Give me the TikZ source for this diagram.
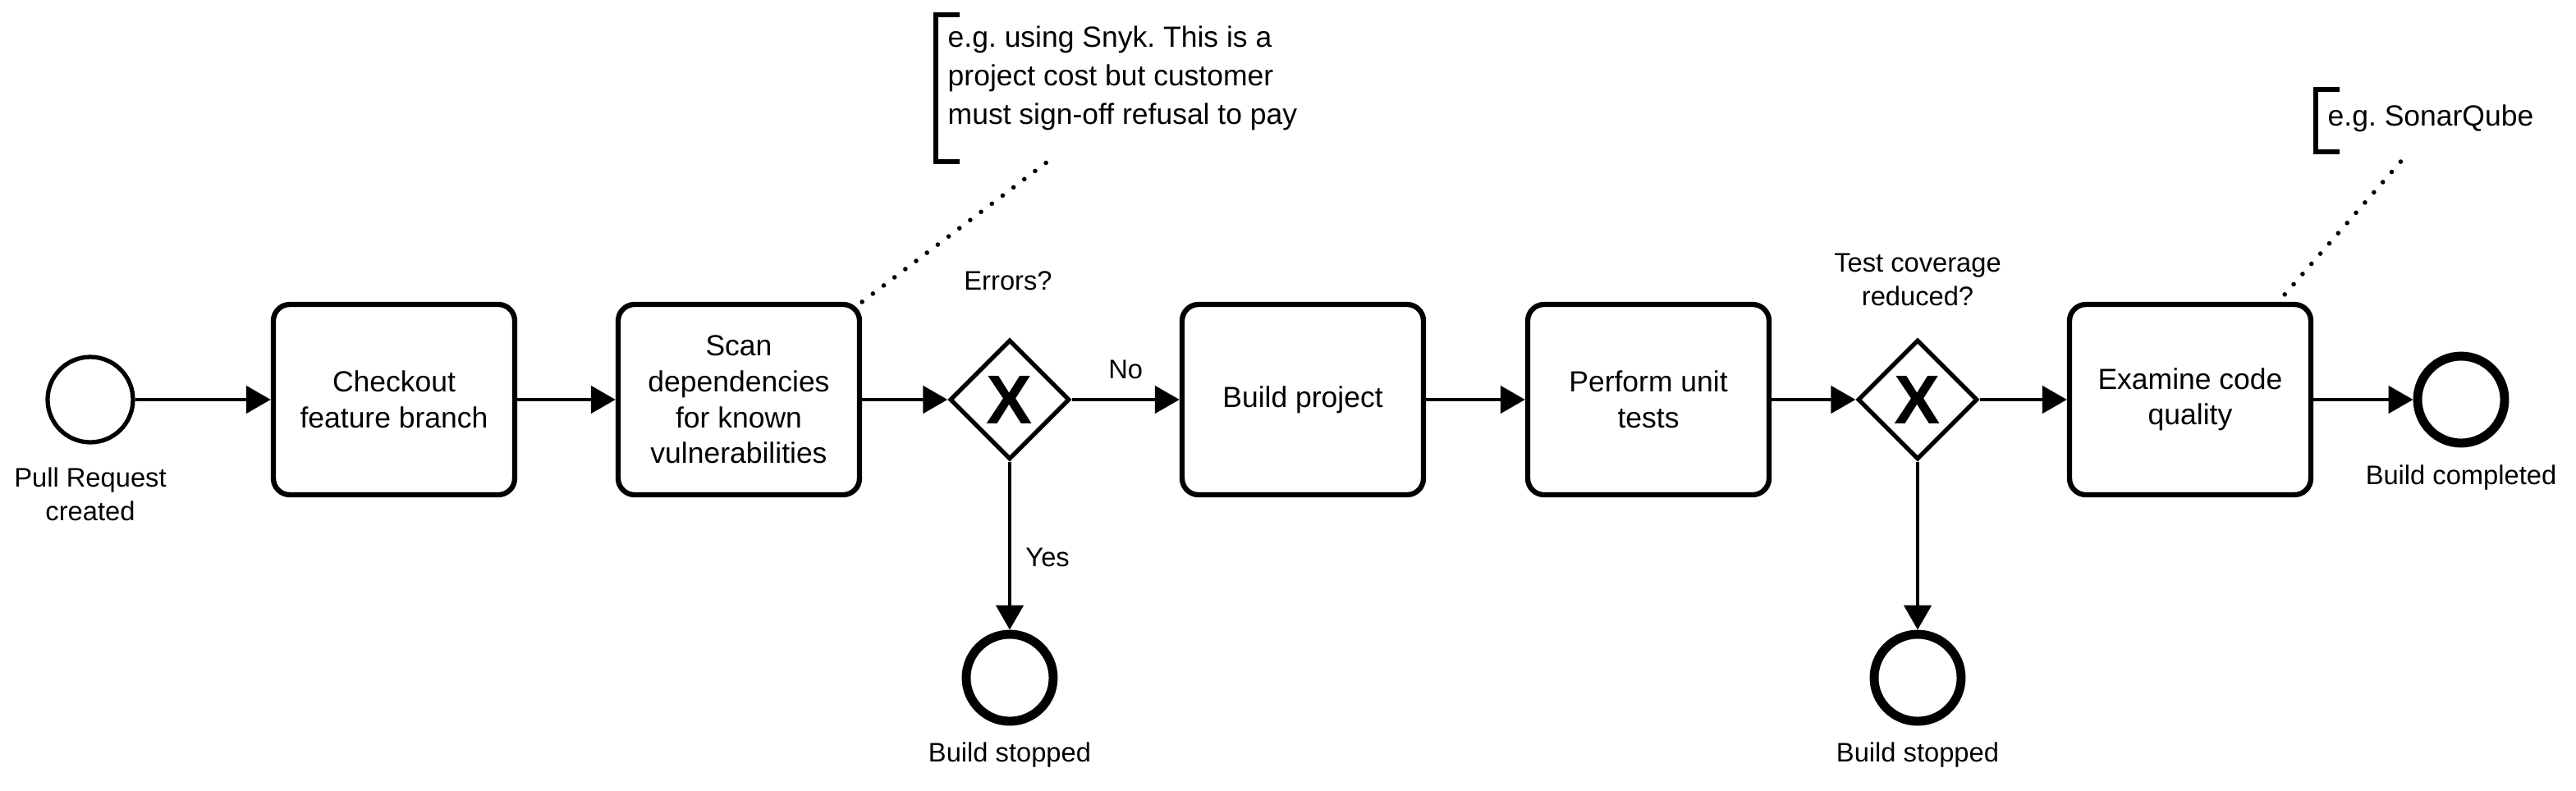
\documentclass[tikz,border=0pt]{standalone}
\usepackage{fontspec}
\setmainfont{Liberation Sans}
\usetikzlibrary{shapes.geometric,arrows.meta}
\frenchspacing

\begin{document}
\begin{tikzpicture}[
  >={Triangle[length=3mm,width=3.3mm]},
  seqflow/.style={->,line width=1.4pt},
  task/.style={draw,line width=1.8pt,rounded corners=2mm,minimum width=2.94cm,minimum height=2.32cm,align=center,font=\fontsize{10.1}{12.4}\selectfont},
  gateway/.style={draw,diamond,line width=1.5pt,minimum size=1.46cm,inner sep=0pt,font=\fontsize{24}{24}\selectfont\bfseries},
  startevent/.style={draw,circle,line width=1.5pt,minimum size=1.04cm,inner sep=0pt},
  endevent/.style={draw,circle,line width=3.1pt,minimum size=1.06cm,inner sep=0pt},
  evlabel/.style={align=center,font=\fontsize{9.3}{11.6}\selectfont},
  notetext/.style={anchor=west,align=left,inner sep=0pt,font=\fontsize{10.1}{13.4}\selectfont},
  bracket/.style={line width=1.7pt},
  assoc/.style={line width=1.6pt,line cap=round,dash pattern=on 0pt off 4.7pt}
]

% Frame
\useasboundingbox (0,-4.76) rectangle (31.38,4.87);

% Events, tasks and gateways
\node[startevent] (start) at (1.10,0) {};
\node[task] (checkout) at (4.80,0) {Checkout\\feature branch};
\node[task] (scan) at (9.00,0) {Scan\\dependencies\\for known\\vulnerabilities};
\node[gateway] (errors) at (12.30,0) {X};
\node[task] (build) at (15.87,0) {Build project};
\node[task] (tests) at (20.08,0) {Perform unit\\tests};
\node[gateway] (coverage) at (23.36,0) {X};
\node[task] (quality) at (26.68,0) {Examine code\\quality};
\node[endevent] (done) at (29.98,0) {};
\node[endevent] (stop1) at (12.30,-3.39) {};
\node[endevent] (stop2) at (23.36,-3.39) {};

% Labels
\node[evlabel] (start lbl) at (1.10,-1.15) {Pull Request\\created};
\node[evlabel] (errors lbl) at (12.28,1.45) {Errors?};
\node[evlabel] (coverage lbl) at (23.36,1.46) {Test coverage\\reduced?};
\node[evlabel] (done lbl) at (29.98,-0.95) {Build completed};
\node[evlabel] (stop1 lbl) at (12.30,-4.33) {Build stopped};
\node[evlabel] (stop2 lbl) at (23.36,-4.33) {Build stopped};

% Sequence flows
\draw[seqflow] (start) -- (checkout);
\draw[seqflow] (checkout) -- (scan);
\draw[seqflow] (scan) -- (errors);
\draw[seqflow] (errors) -- node[evlabel,above=3pt] (no) {No} (build);
\draw[seqflow] (errors) -- node[evlabel,pos=0.57,right=1.5pt] (yes) {Yes} (stop1);
\draw[seqflow] (build) -- (tests);
\draw[seqflow] (tests) -- (coverage);
\draw[seqflow] (coverage) -- (quality);
\draw[seqflow] (coverage) -- (stop2);
\draw[seqflow] (quality) -- (done);

% Annotations
\node[notetext] (snyk) at (11.54,3.92) {e.g. using Snyk. This is a\\project cost but customer\\must sign-off refusal to pay};
\draw[bracket] (11.69,4.69) -- (11.40,4.69) -- (11.40,2.90) -- (11.69,2.90);
\coordinate (snyk end) at (12.76,2.90);
\draw[assoc] (scan.north east) -- (snyk end);

\node[notetext] (sonar) at (28.35,3.43) {e.g. SonarQube};
\draw[bracket] (28.50,3.78) -- (28.21,3.78) -- (28.21,3.02) -- (28.50,3.02);
\coordinate (sonar end) at (29.27,2.93);
\draw[assoc] ([xshift=-3.5mm,yshift=0.9mm]quality.north east) -- (sonar end);

\end{tikzpicture}
\end{document}
